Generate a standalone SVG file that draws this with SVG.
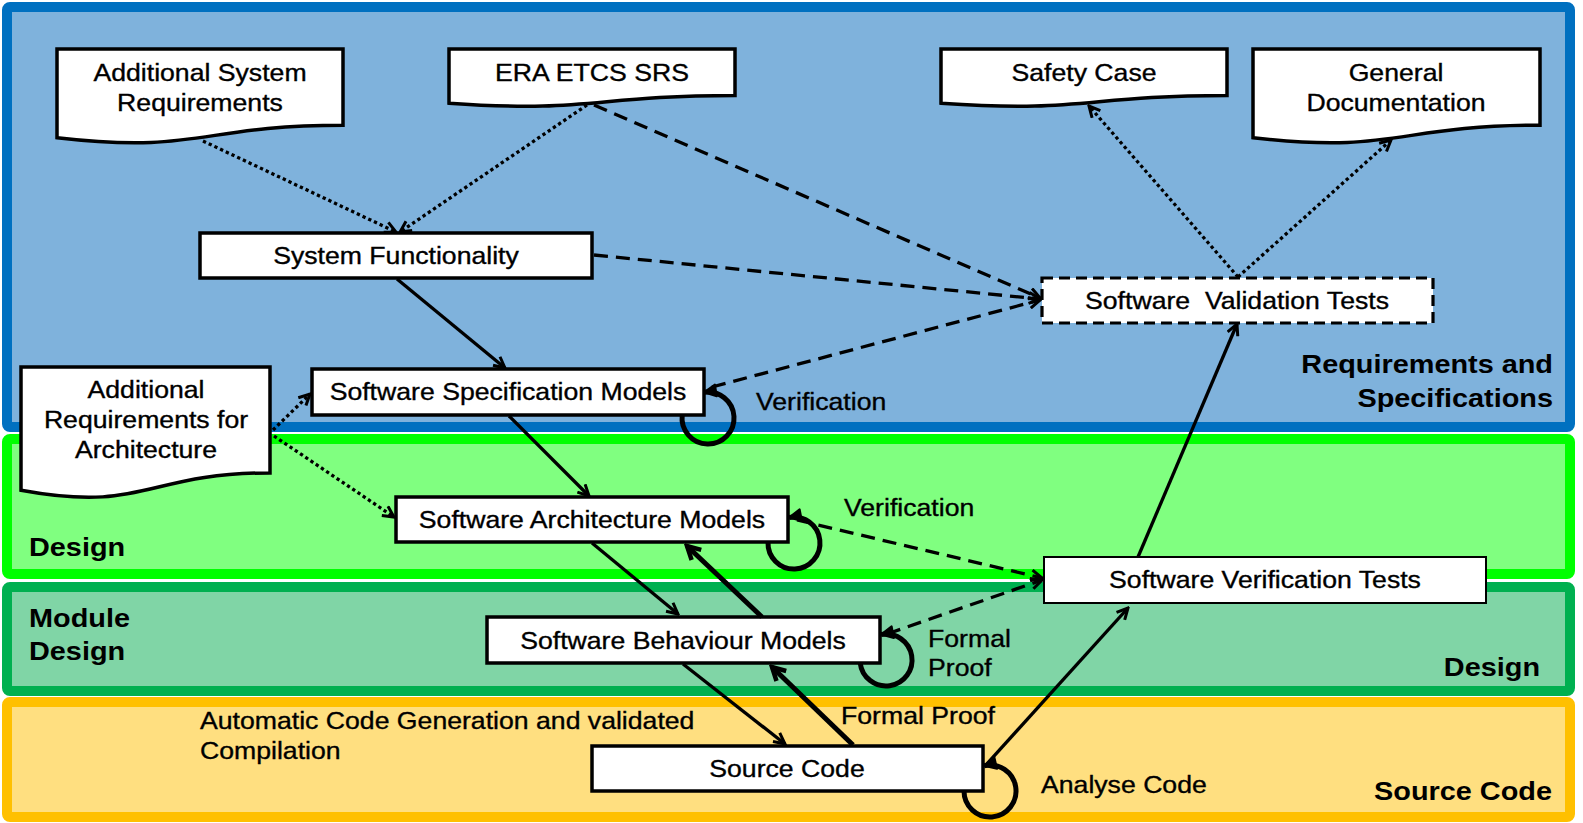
<svg xmlns="http://www.w3.org/2000/svg" width="1583" height="823" viewBox="0 0 1583 823">
<style>
.band{stroke-width:10;stroke-linejoin:round}
.box{fill:#fff;stroke:#000;stroke-width:3.5;stroke-linejoin:miter}
.t{font-family:"Liberation Sans",Arial,sans-serif;font-size:24px;fill:#000;stroke:#000;stroke-width:0.35}
.b{font-family:"Liberation Sans",Arial,sans-serif;font-size:26px;font-weight:bold;fill:#000}
.c{fill:none;stroke:#000;stroke-width:3.3}
.dot{stroke-dasharray:3.3 3}
.dash{stroke-dasharray:14 8}
.thick{stroke-width:5}
.loop{fill:none;stroke:#000;stroke-width:5}
</style>
<defs>
<marker id="ah" viewBox="0 0 14 14" refX="12" refY="7" markerWidth="14" markerHeight="14" markerUnits="userSpaceOnUse" orient="auto">
<path d="M1,1.5 L12,7 L1,12.5" fill="none" stroke="#000" stroke-width="3"/>
</marker>
<marker id="ahb" viewBox="0 0 18 18" refX="15" refY="9" markerWidth="18" markerHeight="18" markerUnits="userSpaceOnUse" orient="auto">
<path d="M2,2 L15,9 L2,16" fill="none" stroke="#000" stroke-width="4.5"/>
</marker>
<marker id="ahl" viewBox="0 0 16 16" refX="14" refY="8" markerWidth="16" markerHeight="16" markerUnits="userSpaceOnUse" orient="auto">
<path d="M2,2 L14,8 L2,14 Z" fill="#000" stroke="#000" stroke-width="2" stroke-linejoin="round"/>
</marker>
</defs>

<g id="bands">
<rect class="band" x="7" y="7" width="1563" height="420" rx="3" fill="#7FB2DC" stroke="#0070C0"/>
<rect class="band" x="7" y="439" width="1563" height="135" rx="3" fill="#80FF80" stroke="#00FF00"/>
<rect class="band" x="7" y="587" width="1563" height="104" rx="3" fill="#80D5A6" stroke="#00B050"/>
<rect class="band" x="7" y="702" width="1563" height="115" rx="3" fill="#FFDF80" stroke="#FFC000"/>
<text class="b" text-anchor="end" transform="translate(1553 373) scale(1.11 1)"><tspan x="0">Requirements and</tspan><tspan x="0" dy="34">Specifications</tspan></text>
<text class="b" transform="translate(29 556) scale(1.11 1)">Design</text>
<text class="b" transform="translate(29 627) scale(1.11 1)"><tspan x="0">Module</tspan><tspan x="0" dy="33">Design</tspan></text>
<text class="b" text-anchor="end" transform="translate(1540 676) scale(1.11 1)">Design</text>
<text class="b" text-anchor="end" transform="translate(1552 800) scale(1.11 1)">Source Code</text>
</g>

<g id="n-asr">
<path class="box" d="M57,49 H343 V125.2 C200,125.2 200,154.2 57,137.7 Z"/>
<text class="t" text-anchor="middle" transform="translate(200 81) scale(1.11 1)"><tspan x="0">Additional System</tspan><tspan x="0" dy="30">Requirements</tspan></text>
</g>
<g id="n-era">
<path class="box" d="M449,49 H735 V95.5 C592,95.5 592,113.2 449,103.2 Z"/>
<text class="t" text-anchor="middle" transform="translate(592 81) scale(1.11 1)">ERA ETCS SRS</text>
</g>
<g id="n-safety">
<path class="box" d="M941,49 H1227 V95.5 C1084,95.5 1084,113.2 941,103.2 Z"/>
<text class="t" text-anchor="middle" transform="translate(1084 81) scale(1.11 1)">Safety Case</text>
</g>
<g id="n-gendoc">
<path class="box" d="M1253,49 H1540 V125.2 C1396.5,125.2 1396.5,154.2 1253,137.7 Z"/>
<text class="t" text-anchor="middle" transform="translate(1396 81) scale(1.11 1)"><tspan x="0">General</tspan><tspan x="0" dy="30">Documentation</tspan></text>
</g>
<g id="n-sysfunc">
<rect class="box" x="200" y="233" width="392" height="45"/>
<text class="t" text-anchor="middle" transform="translate(396 264) scale(1.11 1)">System Functionality</text>
</g>
<g id="n-spec">
<rect class="box" x="312" y="369" width="392" height="46"/>
<text class="t" text-anchor="middle" transform="translate(508 400) scale(1.11 1)">Software Specification Models</text>
</g>
<g id="n-ara">
<path class="box" d="M21,367 H270 V472.9 C145.5,472.9 145.5,513.2 21,490.3 Z"/>
<text class="t" text-anchor="middle" transform="translate(146 398) scale(1.11 1)"><tspan x="0">Additional</tspan><tspan x="0" dy="30">Requirements for</tspan><tspan x="0" dy="30">Architecture</tspan></text>
</g>
<g id="n-arch">
<rect class="box" x="396" y="497" width="392" height="45"/>
<text class="t" text-anchor="middle" transform="translate(592 528) scale(1.11 1)">Software Architecture Models</text>
</g>
<g id="n-behav">
<rect class="box" x="487" y="617" width="393" height="46"/>
<text class="t" text-anchor="middle" transform="translate(683 649) scale(1.11 1)">Software Behaviour Models</text>
</g>
<g id="n-src">
<rect class="box" x="592" y="746" width="391" height="45"/>
<text class="t" text-anchor="middle" transform="translate(787 777) scale(1.11 1)">Source Code</text>
</g>
<g id="n-vertest">
<rect class="box" x="1044" y="557" width="442" height="46" style="stroke-width:2"/>
<text class="t" text-anchor="middle" transform="translate(1265 588) scale(1.11 1)">Software Verification Tests</text>
</g>
<g id="n-valtest">
<rect class="box" x="1042" y="278" width="391" height="45" style="stroke-width:3.2;stroke-dasharray:11 6"/>
<text class="t" text-anchor="middle" transform="translate(1237 309) scale(1.11 1)" style="white-space:pre">Software  Validation Tests</text>
</g>

<g id="connectors">
<path class="c dot" d="M203,141 L396,232" marker-end="url(#ah)"/>
<path class="c dot" d="M587,105 L400,232" marker-end="url(#ah)"/>
<path class="c dash" d="M594,105 L1040,298" marker-end="url(#ah)"/>
<path class="c dash" d="M594,255 L1040,299" marker-end="url(#ah)"/>
<path class="c dash" d="M712,387 L1040,300" marker-end="url(#ah)"/>
<path class="c" d="M397,279 L505,368" marker-end="url(#ah)"/>
<path class="c" d="M509,416 L589,496" marker-end="url(#ah)"/>
<path class="c dot" d="M273,430 L310,394" marker-end="url(#ah)"/>
<path class="c dot" d="M274,436 L394,517" marker-end="url(#ah)"/>
<path class="c" d="M592,543 L678,614" marker-end="url(#ah)"/>
<path class="c thick" d="M762,617 L687,546" marker-end="url(#ahb)"/>
<path class="c" d="M683,664 L785,744" marker-end="url(#ah)"/>
<path class="c thick" d="M853,745 L772,667" marker-end="url(#ahb)"/>
<path class="c dash" d="M797,520 L1042,578" marker-end="url(#ah)"/>
<path class="c dash" d="M887,634 L1042,580" marker-end="url(#ah)"/>
<path class="c" d="M1138,557 L1237,324" marker-end="url(#ah)"/>
<path class="c" d="M985,766 L1128,608" marker-end="url(#ah)"/>
<path class="c dot" d="M1238,277 L1089,106" marker-end="url(#ah)"/>
<path class="c dot" d="M1238,277 L1391,140" marker-end="url(#ah)"/>
<path class="loop" d="M682.2,415 A26,26 0 1 0 704,392.3" marker-end="url(#ahl)"/>
<path class="loop" d="M768,542 A26,26 0 1 0 789,517.5" marker-end="url(#ahl)"/>
<path class="loop" d="M860.2,663 A26,26 0 1 0 881,634.5" marker-end="url(#ahl)"/>
<path class="loop" d="M964,791 A26,26 0 1 0 984,765.7" marker-end="url(#ahl)"/>
</g>

<g id="labels">
<text class="t" transform="translate(756 410) scale(1.11 1)">Verification</text>
<text class="t" transform="translate(844 516) scale(1.11 1)">Verification</text>
<text class="t" transform="translate(928 647) scale(1.11 1)"><tspan x="0">Formal</tspan><tspan x="0" dy="29">Proof</tspan></text>
<text class="t" transform="translate(841 724) scale(1.11 1)">Formal Proof</text>
<text class="t" transform="translate(1041 793) scale(1.11 1)">Analyse Code</text>
<text class="t" transform="translate(200 729) scale(1.11 1)"><tspan x="0">Automatic Code Generation and validated</tspan><tspan x="0" dy="30">Compilation</tspan></text>
</g>
</svg>
